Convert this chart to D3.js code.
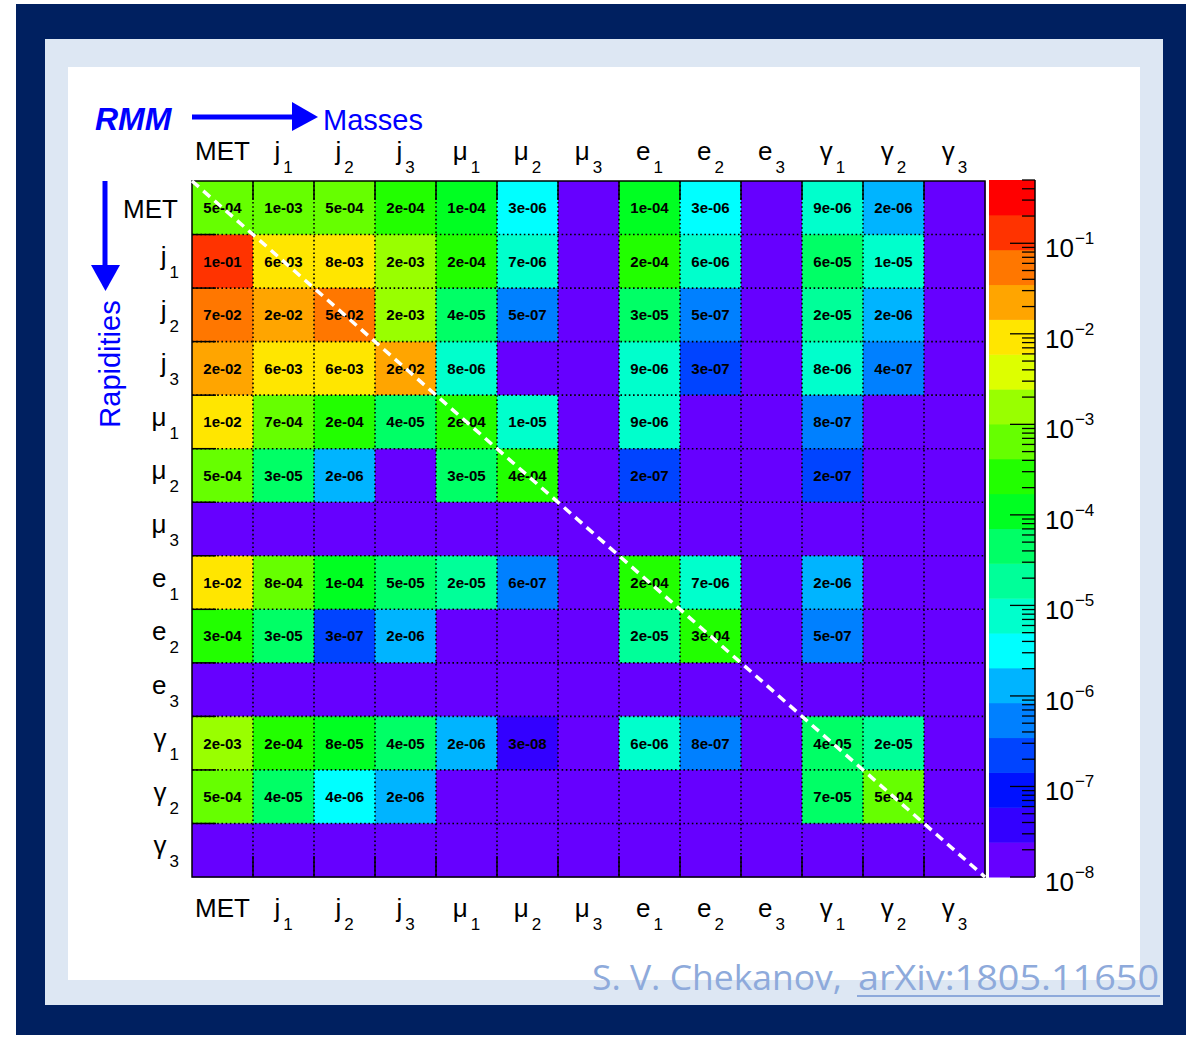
<!DOCTYPE html>
<html>
<head>
<meta charset="utf-8">
<script src="https://cdn.jsdelivr.net/npm/d3@7"></script>
<style>
  body { margin: 0; background: #fff; }
  text { font-family: "Liberation Sans", Arial, Helvetica, sans-serif; }
</style>
</head>
<body>
<div id="chart"></div>
<script>
// RMM (rapidity-mass matrix) for MET, jets, muons, electrons, photons

// object names, same order for rows and columns
const names = ['MET', 'j', 'j', 'j', 'μ', 'μ', 'μ', 'e', 'e', 'e', 'γ', 'γ', 'γ'];
const subs  = ['',    '1', '2', '3', '1', '2', '3', '1', '2', '3', '1', '2', '3'];

// cell values per row (null = empty cell)
const rowMET = [5e-4, 1e-3, 5e-4, 2e-4, 1e-4, 3e-6, null, 1e-4, 3e-6, null, 9e-6, 2e-6, null];
const rowJ1  = [1e-1, 6e-3, 8e-3, 2e-3, 2e-4, 7e-6, null, 2e-4, 6e-6, null, 6e-5, 1e-5, null];
const rowJ2  = [7e-2, 2e-2, 5e-2, 2e-3, 4e-5, 5e-7, null, 3e-5, 5e-7, null, 2e-5, 2e-6, null];
const rowJ3  = [2e-2, 6e-3, 6e-3, 2e-2, 8e-6, null, null, 9e-6, 3e-7, null, 8e-6, 4e-7, null];
const rowMu1 = [1e-2, 7e-4, 2e-4, 4e-5, 2e-4, 1e-5, null, 9e-6, null, null, 8e-7, null, null];
const rowMu2 = [5e-4, 3e-5, 2e-6, null, 3e-5, 4e-4, null, 2e-7, null, null, 2e-7, null, null];
const rowMu3 = [null, null, null, null, null, null, null, null, null, null, null, null, null];
const rowE1  = [1e-2, 8e-4, 1e-4, 5e-5, 2e-5, 6e-7, null, 2e-4, 7e-6, null, 2e-6, null, null];
const rowE2  = [3e-4, 3e-5, 3e-7, 2e-6, null, null, null, 2e-5, 3e-4, null, 5e-7, null, null];
const rowE3  = [null, null, null, null, null, null, null, null, null, null, null, null, null];
const rowG1  = [2e-3, 2e-4, 8e-5, 4e-5, 2e-6, 3e-8, null, 6e-6, 8e-7, null, 4e-5, 2e-5, null];
const rowG2  = [5e-4, 4e-5, 4e-6, 2e-6, null, null, null, null, null, null, 7e-5, 5e-4, null];
const rowG3  = [null, null, null, null, null, null, null, null, null, null, null, null, null];

// z axis range and labelled decades
const zMin = 1e-8;
const zMax = 0.5;
const zDecades = [1e-8, 1e-7, 1e-6, 1e-5, 1e-4, 1e-3, 1e-2, 1e-1];

// ROOT-like rainbow palette, 20 contours (low -> high)
const palette = ['#6600ff', '#3300ff', '#0011ff', '#0044ff', '#0080ff', '#00b4ff', '#00ffff',
  '#00ffcc', '#00ff99', '#00ff66', '#00ff22', '#22ff00', '#66ff00', '#99ff00', '#ddff00',
  '#ffe600', '#ffa500', '#ff7700', '#ff3300', '#ff0000'];

const matrix = [rowMET, rowJ1, rowJ2, rowJ3, rowMu1, rowMu2, rowMu3,
  rowE1, rowE2, rowE3, rowG1, rowG2, rowG3];

const W = 1197, H = 1039;
const blue = '#0000ff';

const svg = d3.select('#chart').append('svg')
  .attr('width', W)
  .attr('height', H);

// slide background: navy frame, light panel, white page
svg.append('rect').attr('x', 16).attr('y', 4).attr('width', 1170).attr('height', 1031).attr('fill', '#002060');
svg.append('rect').attr('x', 45).attr('y', 39).attr('width', 1118).attr('height', 966).attr('fill', '#dde7f3');
svg.append('rect').attr('x', 68).attr('y', 67).attr('width', 1072).attr('height', 913).attr('fill', '#fff');

// Scales
const idx = d3.range(names.length);
const x = d3.scaleBand().domain(idx).range([192, 985]);
const y = d3.scaleBand().domain(idx).range([181, 877]);
const color = d3.scaleQuantize().domain([Math.log10(zMin), Math.log10(zMax)]).range(palette);
const z = d3.scaleLog().domain([zMin, zMax]).range([877, 180]);
const fmt = v => d3.format('.0e')(v).replace(/e([+-])(\d)$/, 'e$10$2');

const cells = [];
matrix.forEach((row, r) => row.forEach((v, c) => cells.push({ r, c, v })));

// Cells
svg.append('g').selectAll('rect')
  .data(cells)
  .join('rect')
    .attr('x', d => x(d.c))
    .attr('y', d => y(d.r))
    .attr('width', x.bandwidth() + 0.5)
    .attr('height', y.bandwidth() + 0.5)
    .attr('fill', d => d.v == null ? palette[0] : color(Math.log10(d.v)));

// Dotted grid
const grid = svg.append('g')
  .attr('stroke', '#000')
  .attr('stroke-width', 1.6)
  .attr('stroke-dasharray', '1.6,2.6');
idx.slice(1).forEach(i => {
  grid.append('line').attr('x1', x(i)).attr('x2', x(i)).attr('y1', 181).attr('y2', 877);
  grid.append('line').attr('y1', y(i)).attr('y2', y(i)).attr('x1', 192).attr('x2', 985);
});

// Ticks on the frame
const ticks = svg.append('g').attr('stroke', '#000').attr('stroke-width', 1.5);
idx.slice(1).forEach(i => {
  ticks.append('line').attr('x1', x(i)).attr('x2', x(i)).attr('y1', 181).attr('y2', 200);
  ticks.append('line').attr('x1', x(i)).attr('x2', x(i)).attr('y1', 877).attr('y2', 856);
  ticks.append('line').attr('y1', y(i)).attr('y2', y(i)).attr('x1', 192).attr('x2', 216);
});

// Frame
svg.append('rect')
  .attr('x', 192).attr('y', 181).attr('width', 793).attr('height', 696)
  .attr('fill', 'none').attr('stroke', '#000').attr('stroke-width', 1.5);

// Cell value labels
svg.append('g').selectAll('text')
  .data(cells.filter(d => d.v != null))
  .join('text')
    .attr('x', d => x(d.c) + x.bandwidth() / 2)
    .attr('y', d => y(d.r) + y.bandwidth() / 2)
    .attr('dy', '0.36em')
    .attr('text-anchor', 'middle')
    .attr('font-size', 15)
    .attr('font-weight', 'bold')
    .text(d => fmt(d.v));

// White dashed diagonal
svg.append('line')
  .attr('x1', x(0)).attr('y1', y(0))
  .attr('x2', x(12) + x.bandwidth()).attr('y2', y(12) + y.bandwidth())
  .attr('stroke', '#fff').attr('stroke-width', 3.5)
  .attr('stroke-dasharray', '9,6');

// Axis labels with subscripts
function label(sel, i) {
  sel.append('tspan').text(names[i]);
  if (subs[i]) {
    sel.append('tspan').attr('dx', 3).attr('dy', 13).attr('font-size', 17).text(subs[i]);
  }
}
idx.forEach(i => {
  const cx = x(i) + x.bandwidth() / 2;
  svg.append('text').attr('x', cx).attr('y', 160).attr('text-anchor', 'middle')
    .attr('font-size', 26).call(label, i);
  svg.append('text').attr('x', cx).attr('y', 917).attr('text-anchor', 'middle')
    .attr('font-size', 26).call(label, i);
  const cy = y(i) + y.bandwidth() / 2;
  svg.append('text')
    .attr('x', subs[i] ? 179 : 178)
    .attr('y', subs[i] ? cy + 4 : cy + 10)
    .attr('text-anchor', 'end')
    .attr('font-size', 26).call(label, i);
});

// Colour bar
const bar = svg.append('g');
bar.selectAll('rect')
  .data(palette)
  .join('rect')
    .attr('x', 989)
    .attr('width', 46)
    .attr('y', c => z(Math.pow(10, color.invertExtent(c)[1])))
    .attr('height', c => {
      const [lo, hi] = color.invertExtent(c);
      return z(Math.pow(10, lo)) - z(Math.pow(10, hi)) + 0.5;
    })
    .attr('fill', c => c);
bar.append('line').attr('x1', 1035).attr('x2', 1035).attr('y1', 180).attr('y2', 877)
  .attr('stroke', '#000').attr('stroke-width', 1.5);
bar.selectAll('.tick')
  .data(z.ticks())
  .join('line')
    .attr('class', 'tick')
    .attr('x1', d => zDecades.includes(d) ? 1010 : 1022)
    .attr('x2', 1035)
    .attr('y1', d => z(d)).attr('y2', d => z(d))
    .attr('stroke', '#000').attr('stroke-width', 1.3);
zDecades.forEach(d => {
  const t = bar.append('text')
    .attr('x', 1045)
    .attr('y', z(d) + 14)
    .attr('font-size', 26);
  t.append('tspan').text('10');
  t.append('tspan').attr('dx', 1).attr('dy', -13).attr('font-size', 17)
    .text('\u2212' + Math.round(-Math.log10(d)));
});

// Title and arrows
svg.append('text')
  .attr('x', 95).attr('y', 130)
  .attr('font-size', 32).attr('font-weight', 'bold').attr('font-style', 'italic')
  .attr('fill', blue).text('RMM');
svg.append('line').attr('x1', 192).attr('x2', 294).attr('y1', 117).attr('y2', 117)
  .attr('stroke', blue).attr('stroke-width', 5);
svg.append('path').attr('d', 'M292,102L318,117L292,131Z').attr('fill', blue);
svg.append('text')
  .attr('x', 323).attr('y', 130)
  .attr('font-size', 29).attr('fill', blue).text('Masses');

svg.append('line').attr('x1', 105).attr('x2', 105).attr('y1', 181).attr('y2', 267)
  .attr('stroke', blue).attr('stroke-width', 5);
svg.append('path').attr('d', 'M91,265L120,265L105.5,291Z').attr('fill', blue);
svg.append('text')
  .attr('transform', 'translate(120,364) rotate(-90)')
  .attr('text-anchor', 'middle')
  .attr('font-size', 29).attr('fill', blue).text('Rapidities');

// Citation
const cite = svg.append('g')
  .attr('fill', '#8eaadb')
  .style('font-family', '"Open Sans", "Noto Sans", sans-serif')
  .attr('font-size', 34);
cite.append('text').attr('x', 592).attr('y', 990)
  .attr('textLength', 250).attr('lengthAdjust', 'spacingAndGlyphs')
  .style('font-family', '"Open Sans", "Noto Sans", sans-serif')
  .text('S. V. Chekanov,');
cite.append('text').attr('x', 858).attr('y', 990)
  .attr('textLength', 301).attr('lengthAdjust', 'spacingAndGlyphs')
  .style('font-family', '"Open Sans", "Noto Sans", sans-serif')
  .text('arXiv:1805.11650');
cite.append('rect').attr('x', 857).attr('y', 995).attr('width', 303).attr('height', 2);
</script>
</body>
</html>
